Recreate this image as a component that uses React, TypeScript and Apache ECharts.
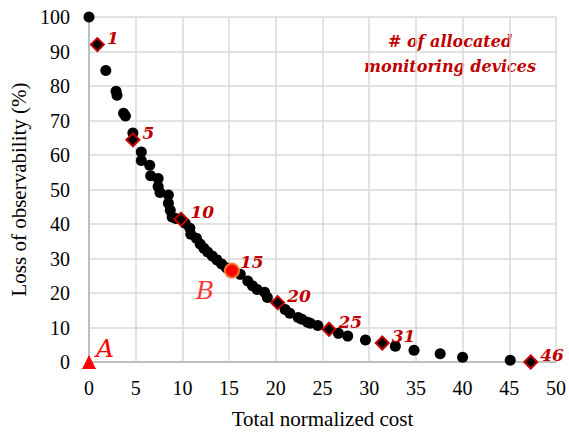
import React, { useEffect, useRef } from "react";
import * as echarts from "echarts";

// Pareto front points (total normalized cost, loss of observability %)
const frontCost = [0, 1.8, 2.9, 3.0, 3.7, 3.9, 4.7, 5.6, 5.6, 6.5, 6.6, 7.4, 7.4, 7.6, 8.5, 8.5, 8.7, 8.9, 9.3, 10.3, 10.8, 10.9, 11.5, 11.9, 12.3, 12.7, 13.2, 13.7, 14.2, 14.7, 16.2, 17.0, 17.5, 18.0, 18.8, 19.1, 21.0, 21.5, 22.4, 22.8, 23.4, 23.7, 24.5, 26.7, 27.7, 29.6, 32.8, 34.8, 37.6, 40.0, 45.1];
const frontLoss = [100, 84.5, 78.5, 77.3, 72.1, 71.3, 66.4, 60.9, 58.4, 57.0, 54.0, 53.2, 50.9, 49.1, 48.4, 46.0, 44.0, 42.0, 41.6, 40.2, 38.8, 37.0, 35.9, 34.2, 33.0, 31.9, 30.7, 29.6, 28.4, 27.3, 25.4, 23.5, 22.1, 21.0, 20.2, 18.7, 15.2, 14.1, 12.9, 12.4, 11.5, 11.2, 10.6, 8.3, 7.5, 6.4, 4.6, 3.4, 2.4, 1.4, 0.5];

// Highlighted solutions (# of allocated monitoring devices)
const markedCost = [0.9, 4.7, 9.85, 20.2, 25.7, 31.4, 47.3];
const markedLoss = [92, 64.4, 41.4, 17.2, 9.5, 5.5, 0];
const markedDevices = ["1", "5", "10", "20", "25", "31", "46"];

// Selected solution B
const pointBCost = 15.3;
const pointBLoss = 26.5;
const pointBDevices = "15";

// Point A
const pointACost = 0;
const pointALoss = 0;

const FONT = "Liberation Serif";
const ITALIC_FONT = "DejaVu Serif";
const DARK_RED = "#c00000";

export default function App() {
  const ref = useRef<HTMLDivElement>(null);
  useEffect(() => {
    if (!ref.current) return;
    const chart = echarts.init(ref.current, null, { renderer: "svg" });
    const numLabel = {
      show: true,
      position: "right" as const,
      distance: 2,
      offset: [0, -7],
      color: DARK_RED,
      fontFamily: ITALIC_FONT,
      fontSize: 17,
      fontStyle: "italic" as const,
      fontWeight: "bold" as const,
    };
    chart.setOption({
      animation: false,
      backgroundColor: "#ffffff",
      textStyle: { fontFamily: FONT },
      grid: { left: 89, right: 12, top: 17, bottom: 70, containLabel: false },
      xAxis: {
        type: "value",
        min: 0,
        max: 50,
        interval: 5,
        name: "Total normalized cost",
        nameLocation: "middle",
        nameGap: 46,
        nameTextStyle: { fontFamily: FONT, fontSize: 21, color: "#000" },
        axisLine: { show: true, onZero: false, lineStyle: { color: "#bfbfbf", width: 2 } },
        axisTick: { show: false },
        axisLabel: { fontFamily: FONT, fontSize: 20, color: "#000", margin: 16 },
        splitLine: { show: true, lineStyle: { color: "#d9d9d9", width: 1.5 } },
      },
      yAxis: {
        type: "value",
        min: 0,
        max: 100,
        interval: 10,
        name: "Loss of observability (%)",
        nameLocation: "middle",
        nameGap: 52,
        nameTextStyle: { fontFamily: FONT, fontSize: 21, color: "#000" },
        axisLine: { show: true, onZero: false, lineStyle: { color: "#bfbfbf", width: 2 } },
        axisTick: { show: false },
        axisLabel: { fontFamily: FONT, fontSize: 20, color: "#000", margin: 19 },
        splitLine: { show: true, lineStyle: { color: "#d9d9d9", width: 1.5 } },
      },
      graphic: [
        {
          type: "text",
          x: 450,
          y: 29,
          style: {
            text: "# of allocated\nmonitoring devices",
            fill: DARK_RED,
            fontFamily: ITALIC_FONT,
            fontSize: 16,
            fontStyle: "italic",
            fontWeight: "bold",
            align: "center",
            verticalAlign: "top",
            lineHeight: 25,
          },
        },
      ],
      series: [
        {
          type: "scatter",
          symbol: "circle",
          symbolSize: 11,
          itemStyle: { color: "#000", opacity: 1 },
          data: frontCost.map((c, i) => [c, frontLoss[i]]),
          z: 2,
        },
        {
          type: "scatter",
          symbol: "diamond",
          symbolSize: 13,
          itemStyle: { color: "#000", borderColor: DARK_RED, borderWidth: 2, opacity: 1 },
          label: { ...numLabel, formatter: (p: any) => markedDevices[p.dataIndex] },
          data: markedCost.map((c, i) => [c, markedLoss[i]]),
          z: 3,
        },
        {
          type: "scatter",
          symbol: "circle",
          symbolSize: 14,
          itemStyle: { color: "#ff0000", borderColor: "#ed7d31", borderWidth: 2, opacity: 1 },
          label: { ...numLabel, distance: 0, offset: [0, -9], formatter: () => pointBDevices },
          data: [[pointBCost, pointBLoss]],
          z: 4,
        },
        {
          type: "scatter",
          symbolSize: 0,
          itemStyle: { color: "transparent" },
          label: {
            show: true,
            position: "inside",
            offset: [-27, 20],
            formatter: () => "B",
            color: "#ff0000",
            fontFamily: ITALIC_FONT,
            fontSize: 25,
            fontStyle: "italic",
          },
          data: [[pointBCost, pointBLoss]],
          z: 4,
        },
        {
          type: "scatter",
          symbol: "triangle",
          symbolSize: 14,
          itemStyle: { color: "#ff0000", opacity: 1 },
          label: {
            show: true,
            position: "inside",
            offset: [16, -14],
            formatter: () => "A",
            color: "#ff0000",
            fontFamily: ITALIC_FONT,
            fontSize: 25,
            fontStyle: "italic",
          },
          data: [[pointACost, pointALoss]],
          clip: false,
          z: 5,
        },
      ],
    });
    return () => chart.dispose();
  }, []);
  return (
    <div
      ref={ref}
      style={{ position: "absolute", left: 0, top: 0, width: 569, height: 434 }}
    />
  );
}
